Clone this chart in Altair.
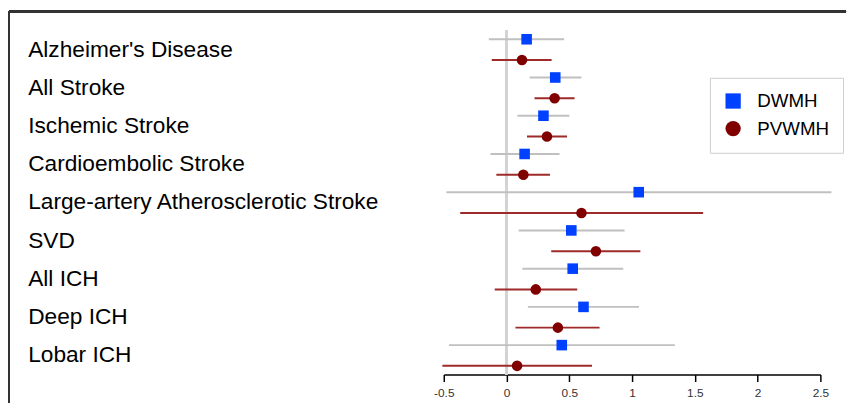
import altair as alt
import pandas as pd

categories = [
    "Alzheimer's Disease", "All Stroke", "Ischemic Stroke", "Cardioembolic Stroke",
    "Large-artery Atherosclerotic Stroke", "SVD", "All ICH", "Deep ICH", "Lobar ICH",
]
series_names = ["DWMH", "PVWMH"]

dwmh_est = [0.160, 0.388, 0.294, 0.144, 1.053, 0.516, 0.527, 0.613, 0.440]
dwmh_lo = [-0.141, 0.184, 0.087, -0.128, -0.479, 0.097, 0.126, 0.170, -0.458]
dwmh_hi = [0.459, 0.597, 0.500, 0.422, 2.588, 0.940, 0.930, 1.055, 1.341]

pvwmh_est = [0.123, 0.383, 0.322, 0.134, 0.597, 0.712, 0.233, 0.409, 0.084]
pvwmh_lo = [-0.118, 0.223, 0.163, -0.081, -0.369, 0.356, -0.094, 0.071, -0.511]
pvwmh_hi = [0.359, 0.542, 0.482, 0.346, 1.566, 1.066, 0.563, 0.741, 0.681]

x_ticks = [-0.5, 0, 0.5, 1, 1.5, 2, 2.5]

rows = []
for name, est, lo, hi in [
    ("DWMH", dwmh_est, dwmh_lo, dwmh_hi),
    ("PVWMH", pvwmh_est, pvwmh_lo, pvwmh_hi),
]:
    for c, e, l, h in zip(categories, est, lo, hi):
        rows.append({"category": c, "series": name, "est": e, "lo": l, "hi": h})
df = pd.DataFrame(rows)

FONT = "Liberation Sans"

y_enc = alt.Y(
    "category:N",
    sort=categories,
    scale=alt.Scale(paddingInner=0, paddingOuter=0),
    axis=alt.Axis(
        title=None, ticks=False, domain=False, labelAlign="left",
        labelPadding=422, labelFontSize=23, labelFont=FONT,
        labelColor="#000000", labelLimit=600,
    ),
)
yoff_enc = alt.YOffset(
    "series:N", sort=series_names,
    scale=alt.Scale(paddingInner=0.157, paddingOuter=0),
)
x_scale = alt.Scale(domain=[-0.5, 2.5], nice=False, zero=False)
x_axis = alt.Axis(
    values=x_ticks, title=None, grid=False, domainColor="#000000",
    domainWidth=1.5, tickColor="#000000", tickWidth=1.5, tickSize=7,
    labelFontSize=12, labelFont=FONT, labelColor="#333333", labelPadding=6,
    labelFlush=False, labelOverlap=False, labelExpr="datum.value + ''",
)

base = alt.Chart(df)

zero_line = base.mark_rule(color="#d3d3d3", strokeWidth=2).encode(
    x=alt.datum(0, scale=x_scale, axis=x_axis)
)

ci_d = base.transform_filter(alt.datum.series == "DWMH").mark_rule(
    strokeWidth=2, color="#c0c0c0"
).encode(
    x=alt.X("lo:Q", scale=x_scale, axis=x_axis),
    x2="hi:Q",
    y=y_enc,
    yOffset=yoff_enc,
)
ci_p = base.transform_filter(alt.datum.series == "PVWMH").mark_rule(
    strokeWidth=2, color="#9e2a2a"
).encode(
    x=alt.X("lo:Q", scale=x_scale, axis=x_axis),
    x2="hi:Q",
    y=y_enc,
    yOffset=yoff_enc,
)

leg = alt.Legend(
    title=None, orient="none", legendX=270, legendY=48,
    strokeColor="#cccccc", padding=14, labelFontSize=19,
    labelFont=FONT, labelColor="#000000", symbolSize=240,
    rowPadding=8, labelOffset=15, symbolStrokeWidth=0,
    symbolOpacity=1,
)

pts = base.mark_point(filled=True, size=115, opacity=1, strokeWidth=0).encode(
    x=alt.X("est:Q", scale=x_scale, axis=x_axis),
    y=y_enc,
    yOffset=yoff_enc,
    color=alt.Color(
        "series:N",
        scale=alt.Scale(domain=series_names, range=["#0040ff", "#800000"]),
        legend=leg,
    ),
    shape=alt.Shape(
        "series:N",
        scale=alt.Scale(domain=series_names, range=["square", "circle"]),
        legend=leg,
    ),
)

frame_top = base.mark_rule(color="#333333", strokeWidth=2).encode(
    x=alt.value(-441), x2=alt.value(408), y=alt.value(-19)
)
frame_left = base.mark_rule(color="#333333", strokeWidth=2).encode(
    x=alt.value(-441), y=alt.value(-19), y2=alt.value(377)
)

chart = (
    alt.layer(frame_top, frame_left, zero_line, ci_d, ci_p, pts)
    .properties(width=382, height=349, padding=0)
    .configure(font=FONT)
    .configure_view(strokeWidth=0)
)

chart.save("out.html", embed_options={"renderer": "svg", "actions": False})
